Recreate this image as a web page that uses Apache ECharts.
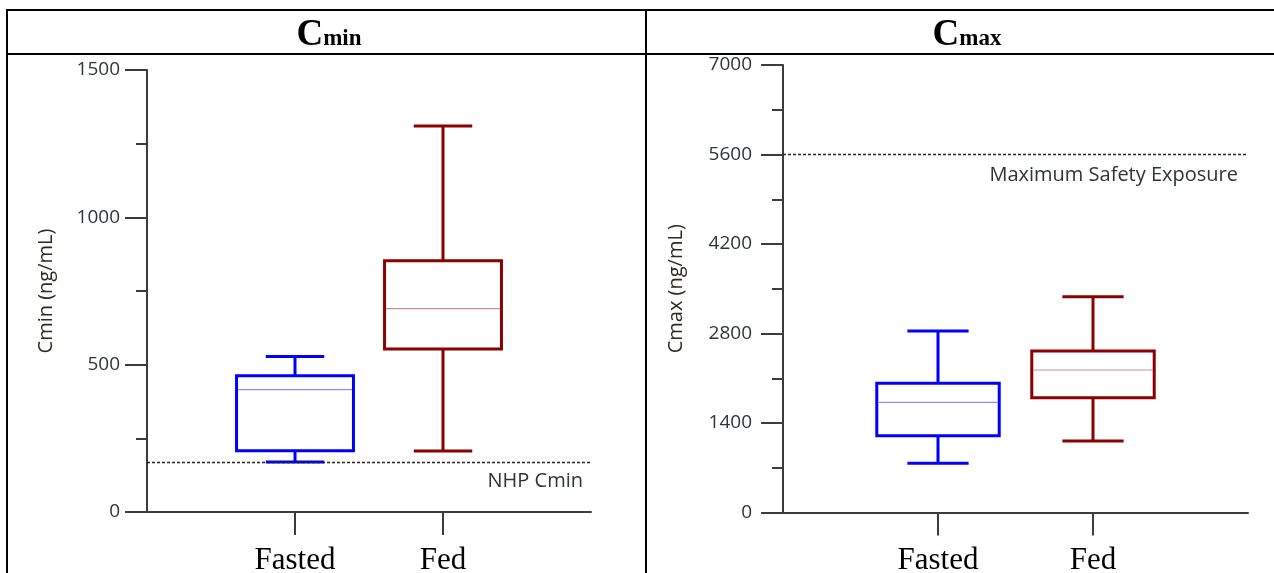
<!DOCTYPE html>
<html><head><meta charset="utf-8">
<script src="https://cdn.jsdelivr.net/npm/echarts@6/dist/echarts.min.js"></script>
<style>html,body{margin:0;padding:0;background:#fff}#c{width:1274px;height:573px}</style>
</head><body><div id="c"></div>
<script>
// ---- data ----
const categories = ['', 'Fasted', 'Fed', ''];
// each box: [min, Q1, median, Q3, max]
const cminFasted = [170, 208, 415, 462, 528];
const cminFed = [207, 553, 690, 853, 1310];
const cmaxFasted = [770, 1201, 1724, 2021, 2839];
const cmaxFed = [1118, 1796, 2229, 2526, 3376];
const nhpCmin = 168;
const maxSafetyExposure = 5600;
const cminAxis = { min: 0, max: 1500, interval: 500 };
const cmaxAxis = { min: 0, max: 7000, interval: 1400 };
const cminLabel = 'NHP Cmin';
const cmaxLabel = 'Maximum Safety Exposure';

// ---- styles ----
const mainColors = ['#0000ff', '#8b0000'];
const medianColors = ['#8c8cff', '#c99090'];
const axisColor = '#3c3c3c';
const textColor = '#2f333b';
const sans = 'Open Sans';
const serif = 'Liberation Serif';

function renderBox(params, api) {
  const x = api.value(0);
  const pMin = api.coord([x, api.value(1)]);
  const pQ1 = api.coord([x, api.value(2)]);
  const pMed = api.coord([x, api.value(3)]);
  const pQ3 = api.coord([x, api.value(4)]);
  const pMax = api.coord([x, api.value(5)]);
  const band = api.size([1, 0])[0];
  const bw = band * 0.79, cw = bw / 2;
  const cx = pMin[0];
  const c = mainColors[params.dataIndex], m = medianColors[params.dataIndex];
  const ls = { stroke: c, lineWidth: 3, fill: 'none' };
  return {
    type: 'group',
    children: [
      { type: 'line', shape: { x1: cx, y1: pQ3[1], x2: cx, y2: pMax[1] }, style: ls },
      { type: 'line', shape: { x1: cx, y1: pQ1[1], x2: cx, y2: pMin[1] }, style: ls },
      { type: 'line', shape: { x1: cx - cw / 2, y1: pMax[1], x2: cx + cw / 2, y2: pMax[1] }, style: ls },
      { type: 'line', shape: { x1: cx - cw / 2, y1: pMin[1], x2: cx + cw / 2, y2: pMin[1] }, style: ls },
      { type: 'rect', shape: { x: cx - bw / 2, y: pQ3[1], width: bw, height: pQ1[1] - pQ3[1] }, style: { stroke: c, lineWidth: 3, fill: '#fff' } },
      { type: 'line', shape: { x1: cx - bw / 2 + 1.5, y1: pMed[1], x2: cx + bw / 2 - 1.5, y2: pMed[1] }, style: { stroke: m, lineWidth: 1.2 } }
    ]
  };
}

const showIdx = (i) => i === 1 || i === 2;

function xAxisCfg(gi) {
  return {
    type: 'category', gridIndex: gi, data: categories, boundaryGap: false,
    axisLine: { lineStyle: { color: axisColor, width: 2 } },
    axisTick: { interval: showIdx, length: 23, lineStyle: { color: axisColor, width: 2 } },
    axisLabel: { interval: showIdx, margin: 33, fontFamily: serif, fontSize: 31, color: '#000' },
    splitLine: { show: false }
  };
}
function yAxisCfg(gi, ax, name, gap) {
  return {
    type: 'value', gridIndex: gi, min: ax.min, max: ax.max, interval: ax.interval,
    name: name, nameLocation: 'middle', nameGap: gap,
    nameTextStyle: { fontFamily: sans, fontSize: 20, color: '#2e2a22' },
    axisLine: { show: true, lineStyle: { color: axisColor, width: 2 } },
    axisTick: { show: true, length: 22, lineStyle: { color: axisColor, width: 2 } },
    minorTick: { show: true, splitNumber: 2, length: 11, lineStyle: { color: axisColor, width: 2 } },
    axisLabel: { margin: gi === 0 ? 27 : 31, fontFamily: sans, fontSize: 19, color: textColor,
      formatter: (v) => String(v) },
    splitLine: { show: false }, minorSplitLine: { show: false }
  };
}
function refLine(value, text, dist) {
  return {
    silent: true, symbol: ['none', 'none'], animation: false,
    lineStyle: { type: [3, 2], color: '#222', width: 1.3 },
    label: { show: true, position: 'insideEndBottom', formatter: text, distance: dist,
      fontFamily: sans, fontSize: 20, color: textColor },
    data: [{ yAxis: value }]
  };
}
const titleRich = {
  a: { fontFamily: serif, fontWeight: 'bold', fontSize: 37, color: '#000', verticalAlign: 'bottom' },
  b: { fontFamily: serif, fontWeight: 'bold', fontSize: 23, color: '#000', verticalAlign: 'bottom', padding: [0, 0, 3, 0] }
};

const chart = echarts.init(document.getElementById('c'), null, { renderer: 'canvas' });
chart.setOption({
  animation: false,
  backgroundColor: '#fff',
  title: [
    { text: '{a|C}{b|min}', left: 324, top: 12, textAlign: 'center', textStyle: { rich: titleRich } },
    { text: '{a|C}{b|max}', left: 962, top: 12, textAlign: 'center', textStyle: { rich: titleRich } }
  ],
  grid: [
    { left: 147, right: 683, top: 70, bottom: 61, containLabel: false, outerBoundsMode: 'none' },
    { left: 783, right: 26, top: 65, bottom: 60.5, containLabel: false, outerBoundsMode: 'none' }
  ],
  xAxis: [xAxisCfg(0), xAxisCfg(1)],
  yAxis: [yAxisCfg(0, cminAxis, 'Cmin (ng/mL)', 91), yAxisCfg(1, cmaxAxis, 'Cmax (ng/mL)', 97)],
  series: [
    {
      type: 'custom', xAxisIndex: 0, yAxisIndex: 0, renderItem: renderBox,
      encode: { x: 0, y: [1, 2, 3, 4, 5] },
      data: [['Fasted'].concat(cminFasted), ['Fed'].concat(cminFed)],
      markLine: refLine(nhpCmin, cminLabel, [8, 9])
    },
    {
      type: 'custom', xAxisIndex: 1, yAxisIndex: 1, renderItem: renderBox,
      encode: { x: 0, y: [1, 2, 3, 4, 5] },
      data: [['Fasted'].concat(cmaxFasted), ['Fed'].concat(cmaxFed)],
      markLine: refLine(maxSafetyExposure, cmaxLabel, [10, 11])
    }
  ],
  graphic: [
    { type: 'line', shape: { x1: 6, y1: 10, x2: 1274, y2: 10 }, style: { stroke: '#000', lineWidth: 2 } },
    { type: 'line', shape: { x1: 6, y1: 54, x2: 1274, y2: 54 }, style: { stroke: '#000', lineWidth: 2 } },
    { type: 'line', shape: { x1: 7, y1: 9, x2: 7, y2: 573 }, style: { stroke: '#000', lineWidth: 2 } },
    { type: 'line', shape: { x1: 646, y1: 9, x2: 646, y2: 573 }, style: { stroke: '#000', lineWidth: 2 } }
  ]
});
</script></body></html>
